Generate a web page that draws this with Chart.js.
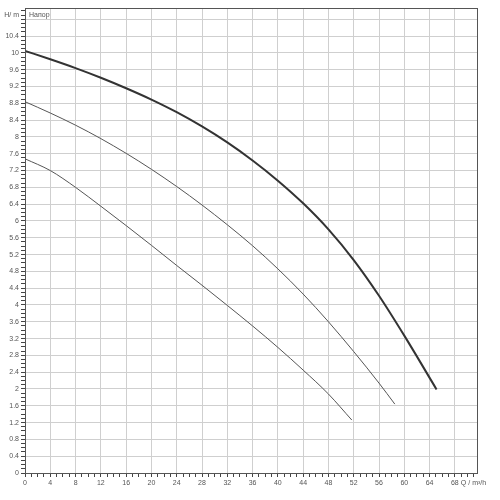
<!DOCTYPE html>
<html>
<head>
<meta charset="utf-8">
<script src="https://cdn.jsdelivr.net/npm/chart.js@4"></script>
<style>
html,body{margin:0;padding:0;background:#fff;}
canvas{display:block;}
</style>
</head>
<body>
<canvas id="c" width="500" height="500"></canvas>
<script>
// Flow Q (m³/h) and head H (m) for three pump curves
const topQ = [0, 4, 8, 12, 16, 20, 24, 28, 32, 36, 40, 44, 48, 52, 56, 60, 65.1];
const topH = [10.05, 9.85, 9.64, 9.41, 9.16, 8.89, 8.59, 8.25, 7.87, 7.44, 6.96, 6.42, 5.80, 5.07, 4.22, 3.27, 1.99];
const midQ = [0, 4, 8, 12, 16, 20, 24, 28, 32, 36, 40, 44, 48, 52, 56, 58.5];
const midH = [8.84, 8.57, 8.28, 7.96, 7.61, 7.23, 6.82, 6.38, 5.91, 5.41, 4.86, 4.26, 3.60, 2.89, 2.14, 1.64];
const lowQ = [0, 4, 8, 12, 16, 20, 24, 28, 32, 36, 40, 44, 48, 51.7];
const lowH = [7.48, 7.20, 6.80, 6.35, 5.89, 5.42, 4.94, 4.47, 3.99, 3.50, 2.99, 2.45, 1.88, 1.26];

const xMin = 0, xMax = 71.5, xMinorStep = 1, xMajorEvery = 4;
const yMin = 0, yMax = 11.07, yMinorStep = 0.1, yMajorEvery = 4;
const yAxisLabel = 'H/ m';
const curveLabel = 'Напор';
const xAxisLabel = 'Q / m³/h';

const pts = (qs, hs) => qs.map((q, i) => ({x: q, y: hs[i]}));
const FONT = {family: '"Liberation Sans", Arial, sans-serif', size: 7};

function buildTicks(scale, step, maxVal) {
  const ticks = [];
  const n = Math.floor(maxVal / step + 1e-6);
  for (let k = 0; k <= n; k++) ticks.push({value: +(k * step).toFixed(4), k: k});
  scale.ticks = ticks;
}

const frame = {
  id: 'frame',
  afterDraw(chart) {
    const {ctx, chartArea: a} = chart;
    ctx.save();
    ctx.strokeStyle = '#555';
    ctx.lineWidth = 1;
    ctx.strokeRect(Math.round(a.left) + 0.5, Math.round(a.top) + 0.5, Math.round(a.right - a.left), Math.round(a.bottom - a.top));
    ctx.fillStyle = '#555';
    ctx.font = '7px "Liberation Sans", Arial, sans-serif';
    ctx.textBaseline = 'middle';
    ctx.textAlign = 'right';
    ctx.fillText(yAxisLabel, a.left - 6, 15);
    ctx.textAlign = 'left';
    ctx.fillText(curveLabel, a.left + 4, 15);
    const xs = chart.scales.x;
    ctx.fillText(xAxisLabel, xs.getPixelForValue(68) + 6, a.bottom + 10);
    ctx.restore();
  }
};

const line = (d, color, w) => ({data: d, borderColor: color, borderWidth: w, pointRadius: 0, cubicInterpolationMode: 'monotone', fill: false});

new Chart(document.getElementById('c'), {
  type: 'line',
  data: {
    datasets: [
      line(pts(topQ, topH), '#333', 2),
      line(pts(midQ, midH), '#555', 1),
      line(pts(lowQ, lowH), '#555', 1)
    ]
  },
  options: {
    responsive: false,
    animation: false,
    layout: {padding: {top: 8, right: 23, left: 0, bottom: 0}},
    plugins: {legend: {display: false}, tooltip: {enabled: false}},
    scales: {
      x: {
        type: 'linear', min: xMin, max: xMax,
        afterBuildTicks: s => buildTicks(s, xMinorStep, 71),
        afterFit: s => { s.height = 27; },
        border: {display: true, color: '#444', width: 1},
        grid: {
          color: c => (c.tick && c.tick.k % xMajorEvery === 0 && c.tick.value > 0) ? '#cfcfcf' : 'rgba(0,0,0,0)',
          tickColor: '#444', tickLength: 4, drawTicks: true, lineWidth: 1
        },
        ticks: {
          autoSkip: false, maxRotation: 0, padding: 2, color: '#555', font: FONT,
          callback: (v, i, t) => (t[i].k % xMajorEvery === 0) ? String(Math.round(v)) : ''
        }
      },
      y: {
        type: 'linear', min: yMin, max: yMax,
        afterBuildTicks: s => buildTicks(s, yMinorStep, 11.0),
        afterFit: s => { s.width = 25; },
        border: {display: true, color: '#444', width: 1},
        grid: {
          color: c => (c.tick && c.tick.k % yMajorEvery === 0 && c.tick.value > 0) ? '#cfcfcf' : 'rgba(0,0,0,0)',
          tickColor: '#444', tickLength: 4, drawTicks: true, lineWidth: 1
        },
        ticks: {
          autoSkip: false, padding: 2, color: '#555', font: FONT,
          callback: (v, i, t) => {
            const k = t[i].k;
            if (k % yMajorEvery !== 0 || k === 108) return '';
            return String(+v.toFixed(1));
          }
        }
      }
    }
  },
  plugins: [frame]
});
</script>
</body>
</html>
